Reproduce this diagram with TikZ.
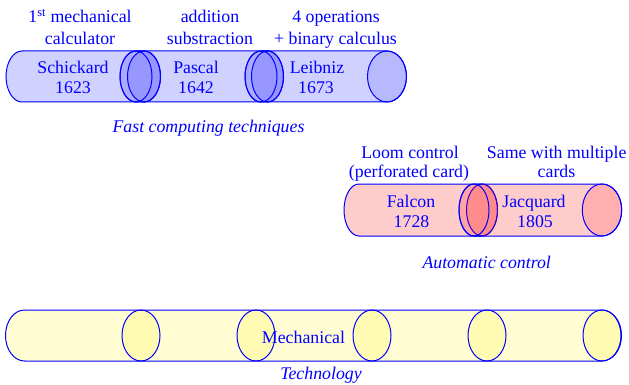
\documentclass[tikz,border=0pt]{standalone}
\usepackage{fontspec}
\setmainfont{Liberation Serif}
\begin{document}
\begin{tikzpicture}[x=1pt,y=-1pt]
\tikzset{
  outline/.style={draw=blue, line width=1pt},
  bluefill/.style={fill=blue, fill opacity=.18},
  bluecap/.style={fill=blue, fill opacity=.12},
  redfill/.style={fill=red, fill opacity=.2},
  redcap/.style={fill=red, fill opacity=.14},
  yellowfill/.style={fill=yellow, fill opacity=.18},
  yellowcap/.style={fill=yellow, fill opacity=.14},
  lbl/.style={text=blue, font=\fontsize{17.8}{21}\selectfont, inner sep=0pt, anchor=base},
  ttl/.style={lbl, font=\fontsize{17.8}{21}\selectfont\itshape},
}
\useasboundingbox (0,0) rectangle (629,385);

% ---------- fast computing techniques (blue) ----------
% Schickard
\path[outline, bluefill] (22,51) arc[start angle=90,end angle=270,x radius=16pt,y radius=25.5pt]
  -- (144,102) arc[start angle=-90,end angle=90,x radius=16.5pt,y radius=25.5pt] -- cycle;
\path[outline, bluecap] (144,76.5) ellipse[x radius=16.5pt,y radius=25.5pt];
% Pascal
\path[outline, bluefill] (136,51) arc[start angle=90,end angle=270,x radius=16pt,y radius=25.5pt]
  -- (267.5,102) arc[start angle=-90,end angle=90,x radius=16pt,y radius=25.5pt] -- cycle;
\draw[outline] (136,76.5) ellipse[x radius=16pt,y radius=25.5pt];
\path[outline, bluecap] (267.5,76.5) ellipse[x radius=16pt,y radius=25.5pt];
% Leibniz
\path[outline, bluefill] (261,51) arc[start angle=90,end angle=270,x radius=16pt,y radius=25.5pt]
  -- (387,102) arc[start angle=-90,end angle=90,x radius=19.5pt,y radius=25.5pt] -- cycle;
\draw[outline] (261,76.5) ellipse[x radius=16pt,y radius=25.5pt];
\path[outline, bluecap] (387,76.5) ellipse[x radius=19.5pt,y radius=25.5pt];

\node[lbl] (l1a) at (80,23) {1\textsuperscript{st} mechanical};
\node[lbl] (l1b) at (80,45) {calculator};
\node[lbl] (l2a) at (210,23) {addition};
\node[lbl] (l2b) at (210,45) {substraction};
\node[lbl] (l3a) at (336,23) {4 operations};
\node[lbl] (l3b) at (335.5,45) {+ binary calculus};
\node[lbl] (schickard) at (73,74) {Schickard};
\node[lbl] (y1623) at (73,94) {1623};
\node[lbl] (pascal) at (196,74) {Pascal};
\node[lbl] (y1642) at (196,94) {1642};
\node[lbl] (leibniz) at (317,74) {Leibniz};
\node[lbl] (y1673) at (316,94) {1673};
\node[ttl] (fast) at (208.5,133) {Fast computing techniques};

% ---------- automatic control (red) ----------
% Falcon
\path[outline, redfill] (359,184) arc[start angle=90,end angle=270,x radius=15pt,y radius=26pt]
  -- (482,236) arc[start angle=-90,end angle=90,x radius=15.5pt,y radius=26pt] -- cycle;
\path[outline, redcap] (482,210) ellipse[x radius=15.5pt,y radius=26pt];
% Jacquard
\path[outline, redfill] (474,184) arc[start angle=90,end angle=270,x radius=15pt,y radius=26pt]
  -- (602,236) arc[start angle=-90,end angle=90,x radius=19.7pt,y radius=26pt] -- cycle;
\draw[outline] (474,210) ellipse[x radius=15pt,y radius=26pt];
\path[outline, redcap] (602,210) ellipse[x radius=19.7pt,y radius=26pt];

\node[lbl] (loom) at (410,158) {Loom control};
\node[lbl] (perf) at (409,177) {(perforated card)};
\node[lbl] (same) at (556.7,158) {Same with multiple};
\node[lbl] (cards) at (556.5,177) {cards};
\node[lbl] (falcon) at (411,207) {Falcon};
\node[lbl] (y1728) at (411.5,227) {1728};
\node[lbl] (jacquard) at (534,207) {Jacquard};
\node[lbl] (y1805) at (535,227) {1805};
\node[ttl] (auto) at (486.7,268) {Automatic control};

% ---------- technology (yellow) ----------
\path[outline, yellowfill] (24.5,310) arc[start angle=90,end angle=270,x radius=19pt,y radius=25.5pt]
  -- (602,361) arc[start angle=-90,end angle=90,x radius=19.5pt,y radius=25.5pt] -- cycle;
\foreach \cx in {141,256,372,487,602}
  \path[outline, yellowcap] (\cx,335.5) ellipse[x radius=19pt,y radius=25.5pt];

\node[lbl] (mech) at (303.5,343) {Mechanical};
\node[ttl] (tech) at (321,379) {Technology};
\end{tikzpicture}
\end{document}
